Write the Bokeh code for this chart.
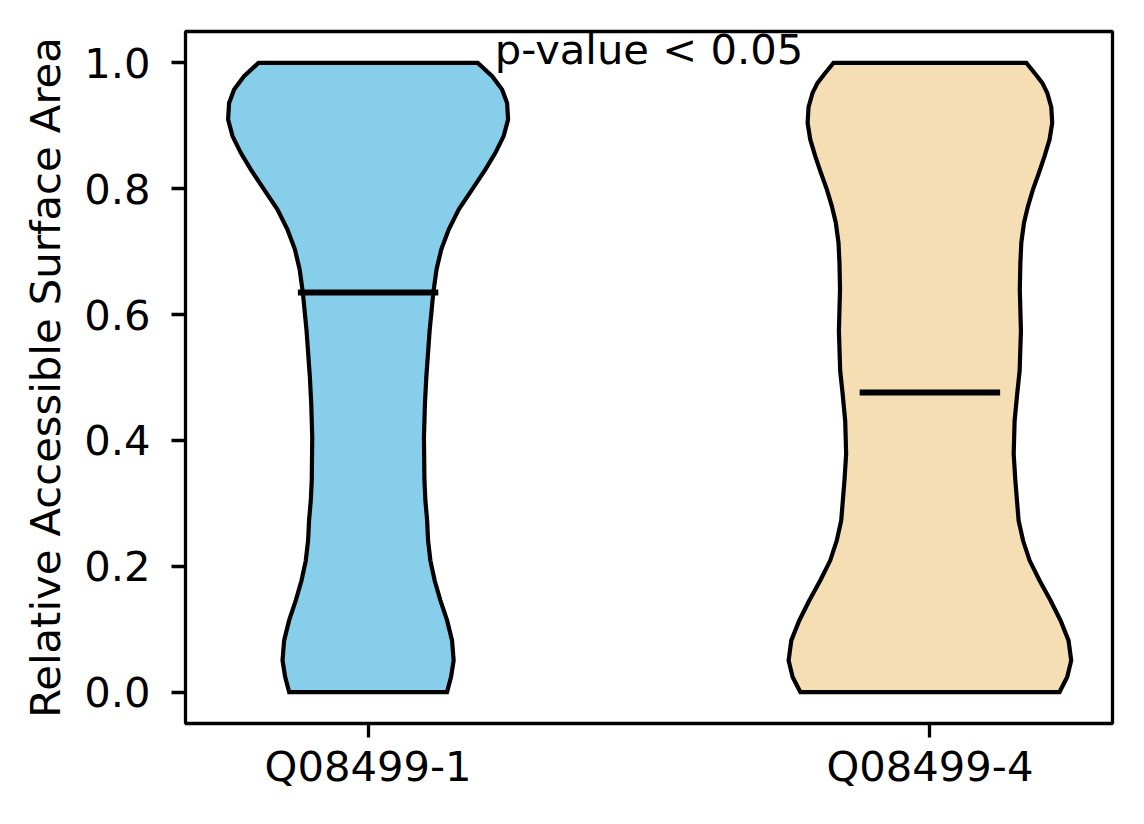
from bokeh.core.properties import value
from bokeh.embed import file_html
from bokeh.models import FixedTicker, PrintfTickFormatter, Range1d
from bokeh.plotting import figure
from bokeh.resources import INLINE

FONT = "DejaVu Sans"
FONT_SIZE = "41.7px"

labels = ["Q08499-1", "Q08499-4"]
positions = [1, 2]
medians = [0.635, 0.476]
colors = ["#87CEEB", "#F5DEB3"]

# violin outlines: RSA level -> half width (x units)
q1_y = [0.0, 0.0238, 0.0503, 0.0821, 0.1138, 0.1456, 0.1773, 0.209, 0.2408,
        0.2725, 0.3043, 0.336, 0.4048, 0.4583, 0.5, 0.5741, 0.6349, 0.6721,
        0.7038, 0.7356, 0.7673, 0.799, 0.8308, 0.8571, 0.8837, 0.9102, 0.9365,
        0.9578, 0.9789, 1.0]
q1_w = [0.1405, 0.1476, 0.1523, 0.1494, 0.1406, 0.1287, 0.1185, 0.1109, 0.1068,
        0.1051, 0.102, 0.1003, 0.0994, 0.1012, 0.1036, 0.1095, 0.1161, 0.1219,
        0.1303, 0.1437, 0.1615, 0.1853, 0.2089, 0.2266, 0.2413, 0.2492, 0.2474,
        0.2385, 0.2208, 0.1952]

q4_y = [0.0, 0.0238, 0.0503, 0.0821, 0.1138, 0.1456, 0.1773, 0.209, 0.2408,
        0.2725, 0.336, 0.3784, 0.4313, 0.4762, 0.5106, 0.5741, 0.6403, 0.6825,
        0.7143, 0.746, 0.7725, 0.799, 0.8254, 0.8519, 0.8784, 0.9048, 0.93,
        0.9524, 0.9683, 0.9841, 1.0]
q4_w = [0.2307, 0.2444, 0.2515, 0.2467, 0.2325, 0.2147, 0.1952, 0.1775, 0.1658,
        0.1579, 0.1521, 0.1491, 0.1508, 0.1556, 0.1597, 0.162, 0.16, 0.161,
        0.1627, 0.1675, 0.1746, 0.1835, 0.1941, 0.2041, 0.213, 0.2177, 0.216,
        0.2089, 0.2, 0.1863, 0.1716]

y_ticks = [0.0, 0.2, 0.4, 0.6, 0.8, 1.0]


def violin_outline(pos, ys, ws):
    """ Closed outline: left side bottom->top, right side top->bottom. """
    xs = [pos - w for w in ws] + [pos + w for w in reversed(ws)]
    yy = list(ys) + list(reversed(ys))
    return xs, yy


p = figure(
    width=1128, height=808,
    x_range=Range1d(0.675, 2.325),
    y_range=Range1d(-0.05, 1.05),
    output_backend="svg",
    toolbar_location=None,
    min_border_left=185, min_border_right=16,
    min_border_top=31, min_border_bottom=85,
)
p.grid.visible = False
p.outline_line_color = "black"
p.outline_line_width = 3.3
p.border_fill_color = "white"

for pos, ys, ws, col in zip(positions, [q1_y, q4_y], [q1_w, q4_w], colors):
    xs, yy = violin_outline(pos, ys, ws)
    p.patch(xs, yy, fill_color=col, line_color="black", line_width=4.2,
            line_join="miter")

p.segment(x0=[x - 0.125 for x in positions], x1=[x + 0.125 for x in positions],
          y0=medians, y1=medians, line_color="black", line_width=6)

p.text(x=[1.5], y=[1.021], text=["p-value < 0.05"], text_align="center",
       text_baseline="alphabetic", text_font=value(FONT),
       text_font_size=FONT_SIZE, text_color="black")

p.xaxis.ticker = FixedTicker(ticks=positions)
p.xaxis.major_label_overrides = dict(zip(positions, labels))
p.yaxis.ticker = FixedTicker(ticks=y_ticks)
p.yaxis.formatter = PrintfTickFormatter(format="%.1f")
p.yaxis.axis_label = "Relative Accessible Surface Area"

p.axis.axis_line_color = None
p.axis.minor_tick_line_color = None
p.axis.major_tick_line_color = "black"
p.axis.major_tick_line_width = 3.3
p.axis.major_tick_out = 14
p.axis.major_tick_in = 0
p.axis.major_label_text_font = FONT
p.axis.major_label_text_font_size = FONT_SIZE
p.axis.major_label_text_color = "black"
p.xaxis.major_label_standoff = 4
p.yaxis.major_label_standoff = 21
p.yaxis.axis_label_text_font = FONT
p.yaxis.axis_label_text_font_size = FONT_SIZE
p.yaxis.axis_label_text_font_style = "normal"
p.yaxis.axis_label_text_color = "black"
p.yaxis.axis_label_standoff = 11

open("out.html", "w").write(file_html(p, INLINE))
